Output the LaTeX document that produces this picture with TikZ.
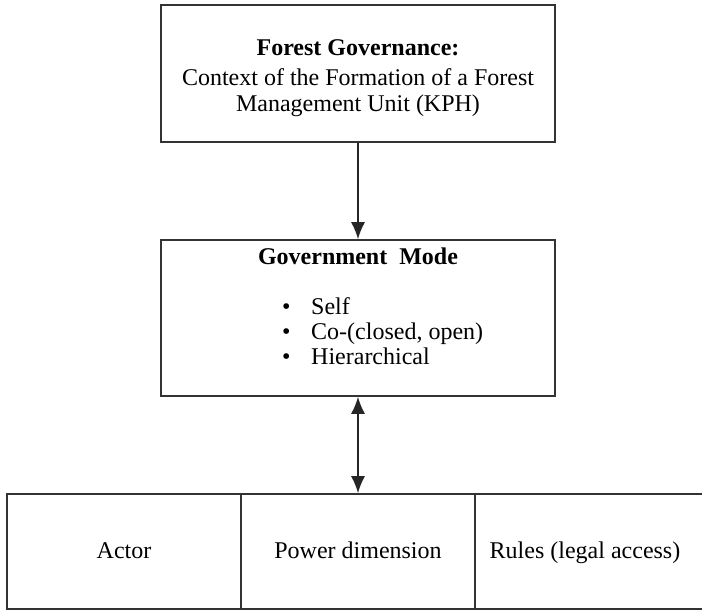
\documentclass[tikz,border=0pt]{standalone}
\usepackage{fontspec}
\setmainfont{Liberation Serif}
\usetikzlibrary{arrows.meta}
\begin{document}
\begin{tikzpicture}[x=1pt,y=1pt,
  box/.style={draw=black!80,line width=1.6pt,minimum width=394pt,inner sep=0pt},
  cell/.style={draw=black!80,line width=1.6pt,minimum width=234pt,minimum height=115pt,inner sep=0pt},
  txt/.style={font=\fontsize{24}{27}\selectfont,inner sep=0pt},
  conn/.style={draw=black!85,line width=1.6pt,-{Latex[length=17pt,width=14pt]}},
  dconn/.style={draw=black!85,line width=1.6pt,{Latex[length=17pt,width=14pt]}-{Latex[length=17pt,width=14pt]}}]
\useasboundingbox (0,0) rectangle (702,-610);
% boxes
\node[box,minimum height=137pt] (top) at (358,-73.5) {};
\node[box,minimum height=156pt] (mid) at (358,-318) {};
\node[cell] (actor) at (124,-551.5) {};
\node[cell] (power) at (358,-551.5) {};
\node[cell] (rules) at (592,-551.5) {};
\node[txt,anchor=base] (ta) at (124,-558) {Actor};
\node[txt,anchor=base] (tp) at (358,-558) {Power dimension};
\node[txt,anchor=base] (tr) at (585,-558) {Rules (legal access)};
% top text
\node[txt,anchor=base] (t1) at (358,-56) {\textbf{Forest Governance:}};
\node[txt,anchor=base] (t2) at (358,-86) {Context of the Formation of a Forest};
\node[txt,anchor=base] (t3) at (358,-111) {Management Unit (KPH)};
% middle text
\node[txt,anchor=base] (m0) at (358,-264) {\textbf{Government\ \ Mode}};
\node[txt,anchor=base west] (b1) at (282,-314) {\textbullet};
\node[txt,anchor=base west] (b2) at (282,-339) {\textbullet};
\node[txt,anchor=base west] (b3) at (282,-364) {\textbullet};
\node[txt,anchor=base west] (m1) at (311,-314) {Self};
\node[txt,anchor=base west] (m2) at (311,-339) {Co-(closed, open)};
\node[txt,anchor=base west] (m3) at (311,-364) {Hierarchical};
% connectors
\draw[conn] (top.south) -- (mid.north);
\draw[dconn] (mid.south) -- (power.north);
\end{tikzpicture}
\end{document}
